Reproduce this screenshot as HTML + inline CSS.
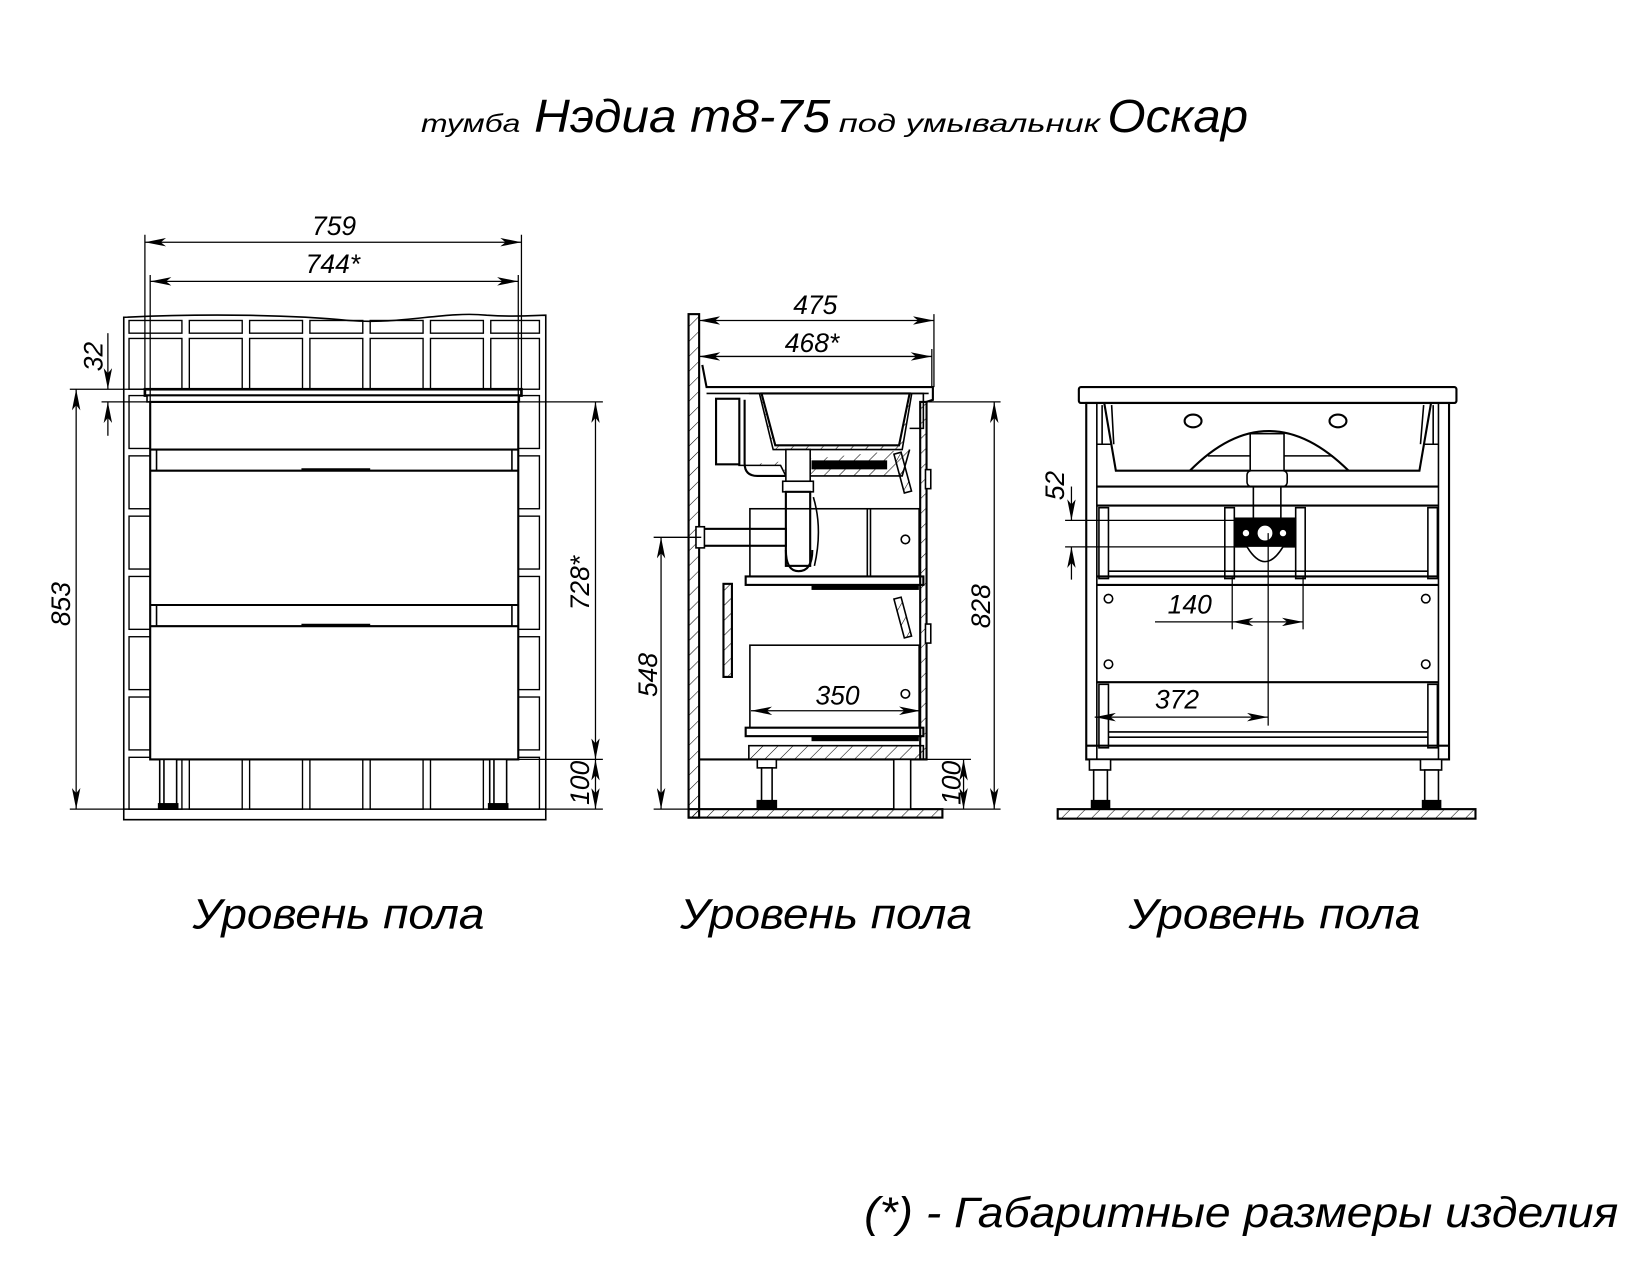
<!DOCTYPE html>
<html><head><meta charset="utf-8"><style>
html,body{margin:0;padding:0;background:#fff;}
svg{display:block;}
text{font-family:"Liberation Sans","DejaVu Sans",sans-serif;font-style:italic;fill:#000;}
</style></head><body>
<svg width="1650" height="1275" viewBox="0 0 1560 1205.45" preserveAspectRatio="none" xmlns="http://www.w3.org/2000/svg">
<defs>
<pattern id="h" width="10" height="10" patternUnits="userSpaceOnUse" patternTransform="rotate(45)">
<line x1="0" y1="0" x2="0" y2="10" stroke="#000" stroke-width="1"/>
</pattern>
<marker id="a" viewBox="0 0 20 8" refX="20" refY="4" markerWidth="20" markerHeight="8" markerUnits="userSpaceOnUse" orient="auto-start-reverse">
<path d="M0,0 L20,4 L0,8 L5,4 Z" fill="#000"/>
</marker>
</defs>

<!-- Title -->
<text x="398" y="125" font-size="24" textLength="94" lengthAdjust="spacingAndGlyphs">тумба</text>
<text x="505" y="125" font-size="44" textLength="280" lengthAdjust="spacingAndGlyphs">Нэдиа т8-75</text>
<text x="793" y="125" font-size="24" textLength="247" lengthAdjust="spacingAndGlyphs">под умывальник</text>
<text x="1047" y="125" font-size="44" textLength="133" lengthAdjust="spacingAndGlyphs">Оскар</text>

<g fill="none" stroke="#000" stroke-width="1.5">
<!-- ============ LEFT VIEW ============ -->
<path d="M117,300 C200,296 280,298 330,303 C380,307 420,294 460,298 C490,300 505,298 516,298 L516,775 L117,775 Z" fill="#fff"/>
<g stroke-width="1.3">
<rect x="122" y="303" width="50" height="12"/><rect x="179" y="303" width="50" height="12"/><rect x="236" y="303" width="50" height="12"/><rect x="293" y="303" width="50" height="12"/><rect x="350" y="303" width="50" height="12"/><rect x="407" y="303" width="50" height="12"/><rect x="464" y="303" width="46" height="12"/>
<rect x="122" y="320" width="50" height="48"/><rect x="179" y="320" width="50" height="48"/><rect x="236" y="320" width="50" height="48"/><rect x="293" y="320" width="50" height="48"/><rect x="350" y="320" width="50" height="48"/><rect x="407" y="320" width="50" height="48"/><rect x="464" y="320" width="46" height="48"/>
<rect x="122" y="374" width="20" height="50"/><rect x="122" y="431" width="20" height="50"/><rect x="122" y="488" width="20" height="50"/><rect x="122" y="545" width="20" height="50"/><rect x="122" y="602" width="20" height="50"/><rect x="122" y="659" width="20" height="50"/>
<rect x="490" y="374" width="20" height="50"/><rect x="490" y="431" width="20" height="50"/><rect x="490" y="488" width="20" height="50"/><rect x="490" y="545" width="20" height="50"/><rect x="490" y="602" width="20" height="50"/><rect x="490" y="659" width="20" height="50"/>
<rect x="122" y="716" width="50" height="49"/><rect x="179" y="716" width="50" height="49"/><rect x="236" y="716" width="50" height="49"/><rect x="293" y="716" width="50" height="49"/><rect x="350" y="716" width="50" height="49"/><rect x="407" y="716" width="50" height="49"/><rect x="464" y="716" width="46" height="49"/>
</g>
<line x1="117" y1="765" x2="516" y2="765"/>
<rect x="137" y="368" width="356" height="6" fill="#fff" stroke-width="2.5"/>
<rect x="139" y="374" width="352" height="6" fill="#fff"/>
<rect x="142" y="380" width="348" height="338" fill="#fff" stroke-width="2"/>
<line x1="142" y1="425" x2="490" y2="425" stroke-width="2"/>
<rect x="148" y="425" width="336" height="20"/>
<line x1="142" y1="445" x2="490" y2="445" stroke-width="2"/>
<line x1="285" y1="444" x2="350" y2="444" stroke-width="2.5"/>
<line x1="142" y1="572" x2="490" y2="572" stroke-width="2"/>
<rect x="148" y="572" width="336" height="20"/>
<line x1="142" y1="592" x2="490" y2="592" stroke-width="2"/>
<line x1="285" y1="591" x2="350" y2="591" stroke-width="2.5"/>
<rect x="151" y="718" width="16" height="47" fill="#fff"/><line x1="155" y1="718" x2="155" y2="765"/>
<rect x="463" y="718" width="16" height="47" fill="#fff"/><line x1="467" y1="718" x2="467" y2="765"/>
<rect x="150" y="760" width="18" height="5" fill="#000"/><rect x="462" y="760" width="18" height="5" fill="#000"/>

<g stroke-width="1.2">
<line x1="137" y1="222" x2="137" y2="368"/><line x1="493" y1="222" x2="493" y2="368"/>
<line x1="142" y1="260" x2="142" y2="380"/><line x1="490" y1="260" x2="490" y2="380"/>
<line x1="137" y1="229" x2="493" y2="229" marker-start="url(#a)" marker-end="url(#a)"/>
<line x1="142" y1="266" x2="490" y2="266" marker-start="url(#a)" marker-end="url(#a)"/>
<line x1="66" y1="368" x2="137" y2="368"/>
<line x1="96" y1="380" x2="142" y2="380"/>
<line x1="66" y1="765" x2="117" y2="765"/>
<line x1="72" y1="368" x2="72" y2="765" marker-start="url(#a)" marker-end="url(#a)"/>
<line x1="102" y1="315" x2="102" y2="368" marker-end="url(#a)"/>
<line x1="102" y1="412" x2="102" y2="380" marker-end="url(#a)"/>
<line x1="490" y1="380" x2="570" y2="380"/>
<line x1="490" y1="718" x2="570" y2="718"/>
<line x1="516" y1="765" x2="570" y2="765"/>
<line x1="563" y1="380" x2="563" y2="718" marker-start="url(#a)" marker-end="url(#a)"/>
<line x1="563" y1="718" x2="563" y2="765" marker-start="url(#a)" marker-end="url(#a)"/>
</g>

<!-- ============ MIDDLE VIEW ============ -->
<g transform="translate(-2,0)">
<rect x="653" y="297" width="10" height="476" fill="url(#h)" stroke-width="2"/>
<rect x="653" y="765" width="240" height="8" fill="url(#h)" stroke-width="2"/>
<path d="M666,345 L670,366 L884,366 L884,378 L878,380" stroke-width="2"/>
<line x1="670" y1="372" x2="880" y2="372"/>
<path d="M710,372 L720,372 L733,425 L855,425 L864,372" fill="url(#h)"/>
<path d="M722,372 L735,421 L852,421 L862,372 Z" fill="#fff" stroke-width="2"/>
<path d="M860,372 L875,372 L875,405 L862,405" />
<path d="M700,440 L740,440 L745,450 L855,450 L862,425" fill="url(#h)"/>
<rect x="770" y="436" width="70" height="7" fill="#000"/>
<rect x="679" y="377" width="22" height="62" fill="#fff" stroke-width="2"/>
<path d="M706,378 L706,438 Q706,450 718,450 L745,450" stroke-width="2"/>
<rect x="745" y="425" width="23" height="30" fill="#fff"/>
<rect x="742" y="455" width="29" height="10" fill="#fff"/>
<rect x="745" y="465" width="23" height="70" fill="#fff" stroke-width="2"/>
<path d="M745,520 Q745,540 757,540 Q770,540 770,520" stroke-width="2"/>
<path d="M771,470 Q780,500 772,535" />
<rect x="665" y="500" width="80" height="16" fill="#fff" stroke-width="2"/>
<rect x="660" y="498" width="8" height="20" fill="#fff"/>
<rect x="711" y="481" width="160" height="64" fill="none"/>
<line x1="822" y1="481" x2="822" y2="545"/><line x1="825" y1="481" x2="825" y2="545"/>
<circle cx="858" cy="510" r="4"/>
<rect x="707" y="545" width="168" height="8" fill="#fff" stroke-width="2"/>
<rect x="770" y="553" width="100" height="4" fill="#000"/>
<rect x="711" y="610" width="160" height="78"/>
<circle cx="858" cy="656" r="4"/>
<rect x="707" y="688" width="168" height="8" fill="#fff" stroke-width="2"/>
<rect x="770" y="696" width="100" height="4" fill="#000"/>
<rect x="710" y="705" width="165" height="13" fill="url(#h)"/>
<line x1="663" y1="718" x2="878" y2="718" stroke-width="2"/>
<rect x="686" y="552" width="8" height="88" fill="url(#h)" stroke-width="2"/>
<rect x="872" y="380" width="6" height="338" fill="url(#h)" stroke-width="2"/>
<rect x="877" y="444" width="5" height="18" fill="#fff"/>
<rect x="877" y="590" width="5" height="18" fill="#fff"/>
<rect x="852" y="428" width="7" height="38" transform="rotate(-15 855 447)" fill="url(#h)"/>
<rect x="852" y="565" width="7" height="38" transform="rotate(-15 855 584)" fill="url(#h)"/>
<rect x="718" y="718" width="18" height="8" fill="#fff"/>
<rect x="722" y="726" width="10" height="32" fill="#fff"/>
<rect x="718" y="757" width="18" height="8" fill="#000"/>
<rect x="847" y="718" width="16" height="47" fill="#fff"/>

<g stroke-width="1.2">
<line x1="885" y1="297" x2="885" y2="366"/><line x1="883" y1="330" x2="883" y2="366"/>
<line x1="663" y1="303" x2="885" y2="303" marker-start="url(#a)" marker-end="url(#a)"/>
<line x1="663" y1="337" x2="883" y2="337" marker-start="url(#a)" marker-end="url(#a)"/>
<line x1="880" y1="380" x2="948" y2="380"/>
<line x1="893" y1="765" x2="948" y2="765"/>
<line x1="942" y1="380" x2="942" y2="765" marker-start="url(#a)" marker-end="url(#a)"/>
<line x1="878" y1="718" x2="920" y2="718"/>
<line x1="913" y1="718" x2="913" y2="765" marker-start="url(#a)" marker-end="url(#a)"/>
<line x1="620" y1="508" x2="665" y2="508"/>
<line x1="620" y1="765" x2="653" y2="765"/>
<line x1="627" y1="508" x2="627" y2="765" marker-start="url(#a)" marker-end="url(#a)"/>
<line x1="712" y1="672" x2="872" y2="672" marker-start="url(#a)" marker-end="url(#a)"/>
</g>
</g>

<!-- ============ RIGHT VIEW ============ -->
<g transform="translate(-5,0)">
<rect x="1005" y="765" width="395" height="9" fill="url(#h)" stroke-width="2"/>
<rect x="1025" y="366" width="357" height="15" rx="2" fill="#fff" stroke-width="2"/>
<rect x="1032" y="381" width="343" height="337" fill="none" stroke-width="2"/>
<line x1="1042" y1="381" x2="1042" y2="718"/><line x1="1365" y1="381" x2="1365" y2="718"/>
<path d="M1049,381 L1060,445 L1347,445 L1358,381" stroke-width="2"/>
<path d="M1042,420 L1055,420 M1365,420 L1352,420"/>
<path d="M1047,383 L1047,420 M1056,383 L1058,420 M1360,383 L1360,420 M1351,383 L1348,420"/>
<ellipse cx="1133" cy="398" rx="8" ry="6" stroke-width="2"/>
<ellipse cx="1270" cy="398" rx="8" ry="6" stroke-width="2"/>
<path d="M1130,445 Q1204,370 1280,445" stroke-width="2"/>
<line x1="1147" y1="431" x2="1265" y2="431"/>
<rect x="1187" y="410" width="32" height="35" fill="#fff"/>
<rect x="1184" y="445" width="38" height="15" rx="4" fill="#fff"/>
<rect x="1190" y="460" width="26" height="30" fill="#fff"/>
<line x1="1042" y1="460" x2="1365" y2="460" stroke-width="2"/>
<line x1="1042" y1="478" x2="1365" y2="478" stroke-width="2"/>
<rect x="1044" y="480" width="9" height="67"/><rect x="1355" y="480" width="9" height="67"/>
<rect x="1163" y="480" width="9" height="67"/><rect x="1230" y="480" width="9" height="67"/>
<rect x="1172" y="490" width="58" height="27" fill="#000"/>
<circle cx="1183" cy="504" r="3" fill="#fff" stroke="none"/>
<circle cx="1218" cy="504" r="3" fill="#fff" stroke="none"/>
<circle cx="1201" cy="504" r="7" fill="#fff" stroke="none"/>
<path d="M1184,517 Q1201,545 1218,517" fill="#fff"/>
<line x1="1053" y1="540" x2="1355" y2="540"/>
<line x1="1042" y1="545" x2="1365" y2="545" stroke-width="2"/>
<line x1="1042" y1="553" x2="1365" y2="553" stroke-width="2"/>
<circle cx="1053" cy="566" r="4"/><circle cx="1353" cy="566" r="4"/>
<circle cx="1053" cy="628" r="4"/><circle cx="1353" cy="628" r="4"/>
<line x1="1042" y1="645" x2="1365" y2="645" stroke-width="2"/>
<rect x="1044" y="647" width="9" height="60"/><rect x="1355" y="647" width="9" height="60"/>
<line x1="1053" y1="692" x2="1355" y2="692"/>
<line x1="1053" y1="697" x2="1355" y2="697"/>
<line x1="1032" y1="705" x2="1375" y2="705" stroke-width="2"/>
<rect x="1035" y="718" width="20" height="10" fill="#fff"/><rect x="1039" y="728" width="13" height="30" fill="#fff"/><rect x="1037" y="757" width="17" height="8" fill="#000"/>
<rect x="1348" y="718" width="20" height="10" fill="#fff"/><rect x="1352" y="728" width="13" height="30" fill="#fff"/><rect x="1350" y="757" width="17" height="8" fill="#000"/>

<g stroke-width="1.2">
<line x1="1012" y1="492" x2="1172" y2="492"/>
<line x1="1012" y1="517" x2="1172" y2="517"/>
<line x1="1018" y1="460" x2="1018" y2="492" marker-end="url(#a)"/>
<line x1="1018" y1="548" x2="1018" y2="517" marker-end="url(#a)"/>
<line x1="1170" y1="545" x2="1170" y2="595"/>
<line x1="1237" y1="545" x2="1237" y2="595"/>
<line x1="1097" y1="588" x2="1170" y2="588"/>
<line x1="1170" y1="588" x2="1237" y2="588" marker-start="url(#a)" marker-end="url(#a)"/>
<line x1="1204" y1="504" x2="1204" y2="686"/>
<line x1="1040" y1="678" x2="1204" y2="678" marker-start="url(#a)" marker-end="url(#a)"/>
</g>
</g>
</g>

<g font-size="25">
<text x="295" y="222">759</text>
<text x="289" y="258">744*</text>
<text transform="translate(66,592) rotate(-90)">853</text>
<text transform="translate(97,351) rotate(-90)">32</text>
<text transform="translate(557,577) rotate(-90)">728*</text>
<text transform="translate(557,761) rotate(-90)">100</text>
<text x="750" y="297">475</text>
<text x="742" y="333">468*</text>
<text transform="translate(936,594) rotate(-90)">828</text>
<text transform="translate(621,659) rotate(-90)">548</text>
<text transform="translate(908,761) rotate(-90)">100</text>
<text x="771" y="666">350</text>
<text transform="translate(1006,473) rotate(-90)">52</text>
<text x="1104" y="580">140</text>
<text x="1092" y="670">372</text>
</g>

<text x="182" y="878" font-size="40" textLength="276" lengthAdjust="spacingAndGlyphs">Уровень пола</text>
<text x="643" y="878" font-size="40" textLength="276" lengthAdjust="spacingAndGlyphs">Уровень пола</text>
<text x="1067" y="878" font-size="40" textLength="276" lengthAdjust="spacingAndGlyphs">Уровень пола</text>
<text x="817" y="1160" font-size="40" textLength="713" lengthAdjust="spacingAndGlyphs">(*) - Габаритные размеры изделия</text>
</svg>
</body></html>
